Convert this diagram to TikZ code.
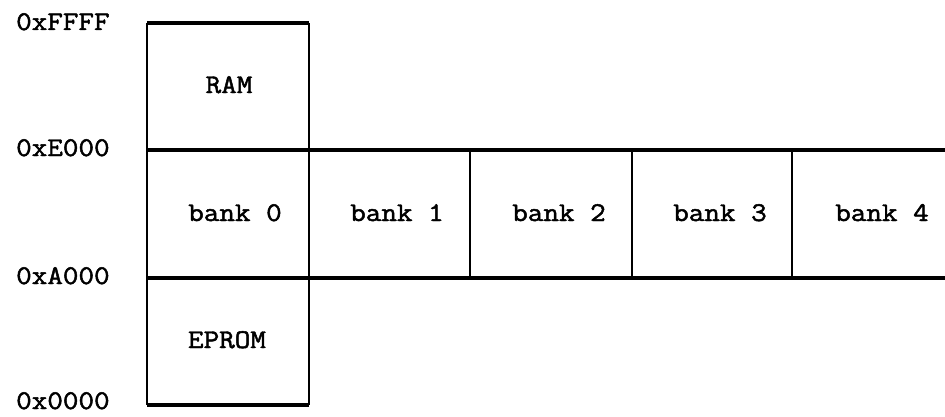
\documentclass[tikz,border=0pt]{standalone}
\usepackage{fontspec}
\newfontfamily\typewriter[FakeStretch=1.12,FakeBold=1.8]{Latin Modern Mono}
\begin{document}
\begin{tikzpicture}[x=1pt,y=1pt,
  lbl/.style={font=\typewriter\fontsize{27}{29}\selectfont, inner sep=0pt, anchor=base},
  addr/.style={lbl, anchor=base west},
  hline/.style={line width=3.6pt},
  vline/.style={line width=2.4pt}]
\useasboundingbox (0,0) rectangle (945,416);
% frame coordinates
\coordinate (tl) at (147,393);
\coordinate (tr) at (309,393);
\coordinate (el) at (147,266);
\coordinate (er) at (945,266);
\coordinate (al) at (147,138);
\coordinate (ar) at (945,138);
\coordinate (bl) at (147,11);
\coordinate (br) at (309,11);
\coordinate (d1t) at (470,266); \coordinate (d1b) at (470,138);
\coordinate (d2t) at (632,266); \coordinate (d2b) at (632,138);
\coordinate (d3t) at (792,266); \coordinate (d3b) at (792,138);
% horizontal lines
\draw[hline] (tl) -- (tr);
\draw[hline] (el) -- (er);
\draw[hline] (al) -- (ar);
\draw[hline] (bl) -- (br);
% vertical lines
\draw[vline] (tl) -- (bl);
\draw[vline] (tr) -- (br);
\draw[vline] (d1t) -- (d1b);
\draw[vline] (d2t) -- (d2b);
\draw[vline] (d3t) -- (d3b);
% cell labels
\node[lbl] (ram) at (229,323) {RAM};
\node[lbl] (b0) at (235,195) {bank 0};
\node[lbl] (b1) at (397,195) {bank 1};
\node[lbl] (b2) at (559,195) {bank 2};
\node[lbl] (b3) at (720,195) {bank 3};
\node[lbl] (b4) at (882,195) {bank 4};
\node[lbl] (eprom) at (227,68) {EPROM};
% address labels
\node[addr] (affff) at (16,386) {0xFFFF};
\node[addr] (ae000) at (16,260) {0xE000};
\node[addr] (aa000) at (16,132) {0xA000};
\node[addr] (a0000) at (16,7) {0x0000};
\end{tikzpicture}
\end{document}
